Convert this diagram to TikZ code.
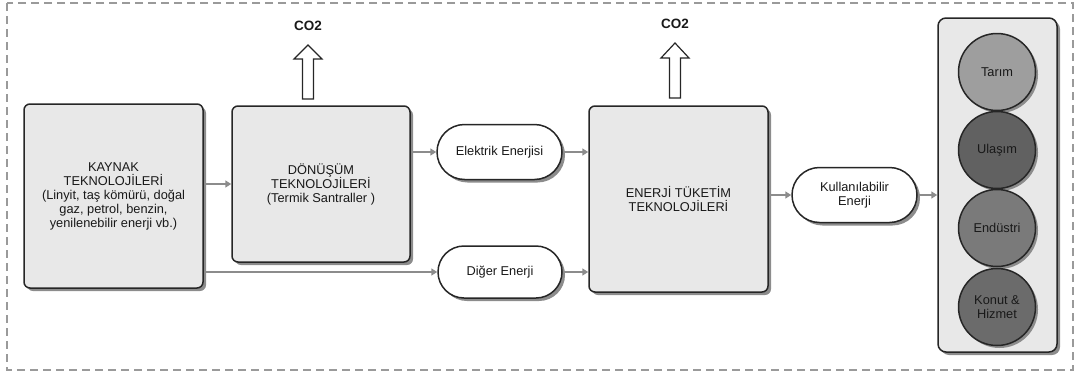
\documentclass[tikz,border=0pt]{standalone}
\usepackage{fontspec}
\setmainfont{Liberation Sans}
\usetikzlibrary{shadows,arrows.meta,shapes.misc}
\definecolor{boxfill}{HTML}{E8E8E8}
\definecolor{conn}{HTML}{8C8C8C}
\definecolor{frame}{HTML}{9A9A9A}
\begin{document}
\begin{tikzpicture}[x=1pt,y=-1pt,
  every node/.style={font=\fontsize{12.8}{14}\selectfont, align=center, inner sep=0pt, text=black!90},
  bigbox/.style={draw=black!85, line width=1.5pt, fill=boxfill, rounded corners=6pt,
     drop shadow={shadow xshift=3pt, shadow yshift=-3pt, fill=black!45, opacity=1}},
  pill/.style={rounded rectangle, draw=black!85, line width=1.5pt, fill=white,
     drop shadow={shadow xshift=3pt, shadow yshift=-3pt, fill=black!45, opacity=1}},
  disc/.style={circle, draw=black!85, line width=1.5pt, minimum size=77pt,
     drop shadow={shadow xshift=2.5pt, shadow yshift=-2.5pt, fill=black!45, opacity=1}},
  conn/.style={draw=conn, line width=1.6pt, -{Triangle[width=7pt,length=6pt]}},
  co2arrow/.style={draw=black!85, line width=1.2pt, fill=white, line join=miter},
  co2/.style={font=\fontsize{13.5}{15}\selectfont\bfseries}
]
\useasboundingbox (0,0) rectangle (1076,378);
\draw[frame, line width=2.2pt, dash pattern=on 8pt off 5pt] (7,3) rectangle (1073,370);

% big boxes
\node[bigbox, minimum width=179pt, minimum height=184pt] (kay) at (113.5,196)
  {KAYNAK\\TEKNOLOJİLERİ\\(Linyit, taş kömürü, doğal\\gaz, petrol, benzin,\\yenilenebilir enerji vb.)};
\node[bigbox, minimum width=178pt, minimum height=156pt] (don) at (321,184)
  {DÖNÜŞÜM\\TEKNOLOJİLERİ\\(Termik Santraller )};
\node[bigbox, minimum width=179pt, minimum height=186pt] (ene) at (678.5,199)
  {ENERJİ TÜKETİM\\TEKNOLOJİLERİ};

% pills
\node[pill, minimum width=125pt, minimum height=55pt] (elk) at (499.5,152) {Elektrik Enerjisi};
\node[pill, minimum width=124pt, minimum height=52pt] (dig) at (500,272) {Diğer Enerji};
\node[pill, minimum width=125pt, minimum height=55pt] (kul) at (854.5,195) {Kullanılabilir\\Enerji};

% right panel
\node[bigbox, rounded corners=8pt, minimum width=119pt, minimum height=334pt] (pan) at (997.5,185) {};
\node[disc, fill=black!38] (tar) at (997,72) {Tarım};
\node[disc, fill=black!62] (ula) at (997,150) {Ulaşım};
\node[disc, fill=black!52] (end) at (997,228) {Endüstri};
\node[disc, fill=black!58] (kon) at (997,307) {Konut \&\\Hizmet};

% CO2 arrows
\coordinate (a1) at (308,99);
\draw[co2arrow] ([xshift=-5.5pt]a1) -- ++(0,-40) -- ++(-8.5,0) -- ++(14,-14) -- ++(14,14) -- ++(-8.5,0) -- ++(0,40) -- cycle;
\coordinate (a2) at (675,98);
\draw[co2arrow] ([xshift=-5.5pt]a2) -- ++(0,-40) -- ++(-8.5,0) -- ++(14,-15) -- ++(14,15) -- ++(-8.5,0) -- ++(0,40) -- cycle;
\node[co2] (c1) at (308,26) {CO2};
\node[co2] (c2) at (675,24) {CO2};

% connectors
\coordinate (k1) at (kay.east |- 0,184);
\coordinate (d1) at (don.west |- 0,184);
\draw[conn] (k1) -- (d1);
\coordinate (d2) at (don.east |- elk.west);
\draw[conn] (d2) -- (elk.west);
\coordinate (k2) at (kay.east |- dig.west);
\draw[conn] (k2) -- (dig.west);
\coordinate (e1) at (ene.west |- elk.east);
\draw[conn] (elk.east) -- (e1);
\coordinate (e2) at (ene.west |- dig.east);
\draw[conn] (dig.east) -- (e2);
\coordinate (e3) at (ene.east |- kul.west);
\draw[conn] (e3) -- (kul.west);
\coordinate (p1) at (pan.west |- kul.east);
\draw[conn] (kul.east) -- (p1);
\end{tikzpicture}
\end{document}
